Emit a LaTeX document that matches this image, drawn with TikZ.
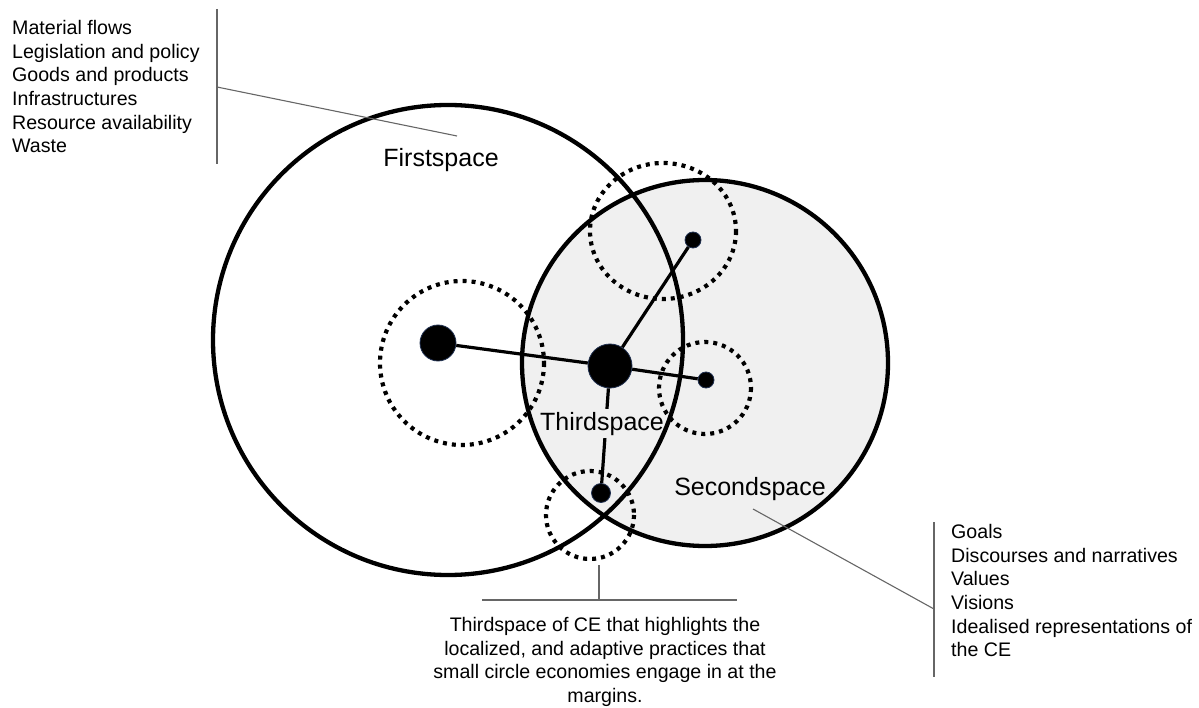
\documentclass[tikz,border=0pt]{standalone}
\usepackage{fontspec}
\setmainfont{Liberation Sans}
\definecolor{lensgray}{HTML}{F0F0F0}
\definecolor{hubedge}{HTML}{1F2F4F}
\begin{document}
\begin{tikzpicture}[x=1pt,y=-1pt,
  bigring/.style={draw=black, line width=4.3pt},
  dotring/.style={draw=black, line width=4.2pt, dash pattern=on 4pt off 5pt},
  link/.style={draw=black, line width=3.2pt},
  callout/.style={draw=black!60, line width=1.1pt},
  hub/.style={circle, fill=black, draw=hubedge, line width=0.8pt, inner sep=0pt},
  listtext/.style={font=\fontsize{19.6}{23.7}\selectfont, align=left, inner sep=0pt},
  centertext/.style={font=\fontsize{19.6}{23.7}\selectfont, align=center, inner sep=0pt},
  spacelabel/.style={font=\fontsize{25}{30}\selectfont, inner sep=0pt}]
\useasboundingbox (0,0) rectangle (1199,708);
% Secondspace fill
\fill[lensgray] (705,363) circle (183);
% hubs
\node[hub, minimum size=36pt] (A) at (438,343) {};
\node[hub, minimum size=44pt] (C) at (610,366) {};
\node[hub, minimum size=16pt] (T) at (693,240) {};
\node[hub, minimum size=16pt] (R) at (706,380) {};
\node[hub, minimum size=19pt] (B) at (601,493) {};
% links
\draw[link] (A) -- (C);
\draw[link] (C) -- (T);
\draw[link] (C) -- (R);
\draw[link] (C) -- (B);
% labels
\node[spacelabel, fill=lensgray, inner xsep=1pt, inner ysep=3pt, anchor=base] (third) at (602,430) {Thirdspace};
\node[spacelabel, anchor=base] (first) at (441,167) {Firstspace};
\node[spacelabel, anchor=base] (second) at (750,495) {Secondspace};
% big circles
\draw[bigring] (448,340) circle (235);
\draw[bigring] (705,363) circle (183);
% dotted circles
\draw[dotring] (462,363) circle (82);
\draw[dotring] (663,231) ellipse (73 and 68);
\draw[dotring] (705,388) circle (46);
\draw[dotring] (590,515) circle (44);
% left list
\node[listtext, anchor=north west] (firstlist) at (12,20) {Material flows\\Legislation and policy\\Goods and products\\Infrastructures\\Resource availability\\Waste};
\draw[callout] (217,9) -- (217,164);
\coordinate (L1) at (217,87);
\coordinate (L2) at (457,136);
\draw[callout] (L1) -- (L2);
% right list
\node[listtext, anchor=north west] (secondlist) at (951,524) {Goals\\Discourses and narratives\\Values\\Visions\\Idealised representations of\\the CE};
\draw[callout] (934,522) -- (934,677);
\coordinate (R1) at (934,609);
\coordinate (R2) at (753,509);
\draw[callout] (R1) -- (R2);
% bottom note
\node[centertext, anchor=north] (thirdnote) at (605,617) {Thirdspace of CE that highlights the\\localized, and adaptive practices that\\small circle economies engage in at the\\margins.};
\coordinate (B1) at (599,565);
\coordinate (B2) at (599,600);
\coordinate (H1) at (482,600);
\coordinate (H2) at (737,600);
\draw[callout] (B1) -- (B2);
\draw[callout] (H1) -- (H2);
\end{tikzpicture}
\end{document}
